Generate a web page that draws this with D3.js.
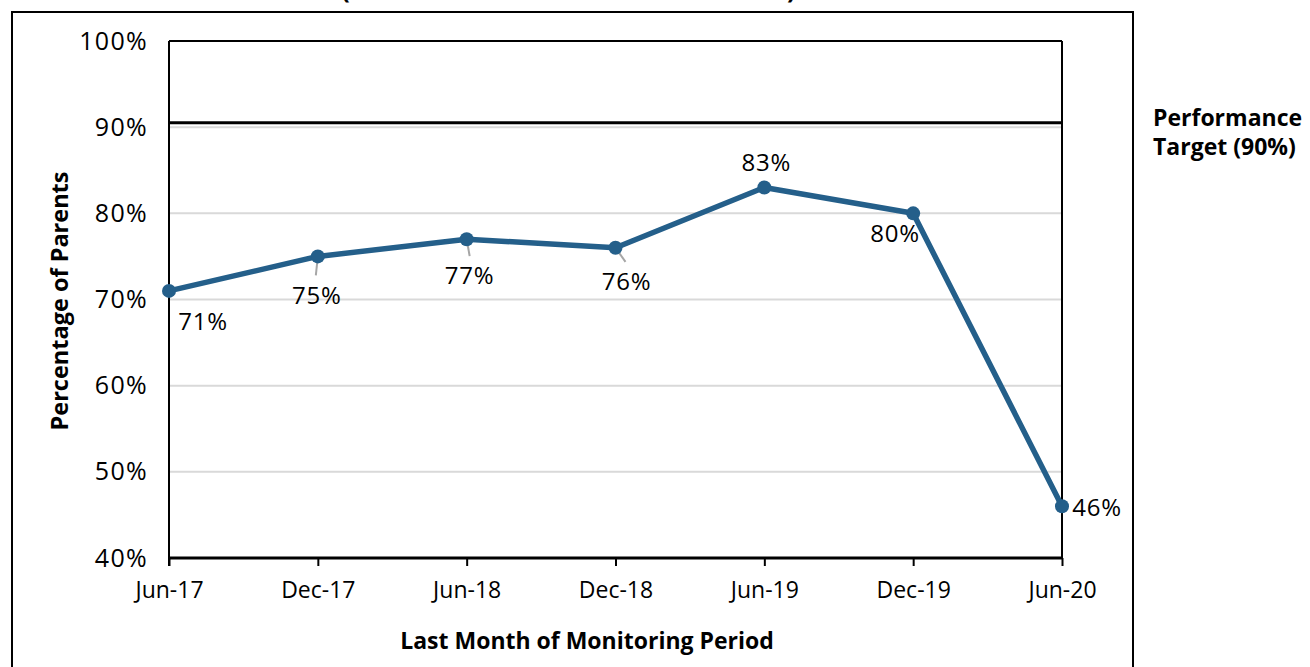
<!DOCTYPE html>
<html><head><meta charset="utf-8">
<script src="https://cdn.jsdelivr.net/npm/d3@7"></script>
<style>body{margin:0;background:#fff}svg{display:block}text{font-family:"Open Sans",sans-serif}</style>
</head><body><svg id="c" width="1310" height="667"></svg>
<script>
const categories = ["Jun-17","Dec-17","Jun-18","Dec-18","Jun-19","Dec-19","Jun-20"];
const values = [71,75,77,76,83,80,46];
const yTicks = [40,50,60,70,80,90,100];
const targetValue = 90.5;
const labelOffsets = [[34,30],[-1,39],[3,36],[11,33],[2,-25],[-18,20],[35,1]];
const leaderEnds = [null,[-2,19],[3,17],[10,14],null,null,null];

const svg = d3.select("#c");
const m = {l:169, r:1062, t:41, b:558};
const x = d3.scalePoint().domain(categories).range([m.l, m.r]);
const y = d3.scaleLinear().domain([40,100]).range([m.b, m.t]);
const blue = "#245f8a";

// outer frame
svg.append("path").attr("d","M12,700 L12,12 L1133,12 L1133,700").attr("fill","none").attr("stroke","#000").attr("stroke-width",2);
// clipped title (only bottoms of parentheses visible in the reference)
svg.append("text").attr("x",341).attr("y",-2).attr("font-size",26).attr("font-weight","bold").text("(");
svg.append("text").attr("x",787).attr("y",-2).attr("font-size",26).attr("font-weight","bold").text(")");

// gridlines
svg.append("g").selectAll("line").data(yTicks.filter(d=>d>40&&d<100)).join("line")
  .attr("x1",m.l).attr("x2",m.r).attr("y1",d=>y(d)).attr("y2",d=>y(d)).attr("stroke","#d9d9d9").attr("stroke-width",2);

// plot box top/right
svg.append("line").attr("x1",m.l).attr("x2",m.r).attr("y1",m.t).attr("y2",m.t).attr("stroke","#000").attr("stroke-width",2);
svg.append("line").attr("x1",m.r).attr("x2",m.r).attr("y1",m.t).attr("y2",m.b).attr("stroke","#000").attr("stroke-width",2);

// y axis
const ya = svg.append("g").attr("transform",`translate(${m.l},0)`)
  .call(d3.axisLeft(y).tickValues(yTicks).tickFormat(d=>d+"%").tickSize(0).tickPadding(21));
ya.select(".domain").attr("stroke","#000").attr("stroke-width",2).attr("d",`M0,${m.t}V${m.b+8}`);
ya.selectAll("text").attr("font-size",25).attr("letter-spacing",1.3).attr("fill","#000").attr("font-family","Open Sans");

// x axis
const xa = svg.append("g").attr("transform",`translate(0,${m.b})`)
  .call(d3.axisBottom(x).tickSize(8).tickPadding(16));
xa.select(".domain").attr("stroke","#000").attr("stroke-width",3).attr("d",`M${m.l},0H${m.r}`);
xa.selectAll("line").attr("stroke","#000").attr("stroke-width",2);
xa.selectAll("text").attr("font-size",23).attr("fill","#000").attr("font-family","Open Sans");

// target line
svg.append("line").attr("x1",m.l).attr("x2",m.r).attr("y1",y(targetValue)).attr("y2",y(targetValue)).attr("stroke","#000").attr("stroke-width",3);
svg.append("text").attr("x",1153).attr("y",126).attr("font-size",23).attr("font-weight","bold").text("Performance");
svg.append("text").attr("x",1153).attr("y",155).attr("font-size",23).attr("font-weight","bold").text("Target (90%)");

// line
const data = categories.map((c,i)=>({c,v:values[i],i}));
svg.append("path").datum(data).attr("fill","none").attr("stroke",blue).attr("stroke-width",5.5).attr("stroke-linejoin","round")
  .attr("d",d3.line().x(d=>x(d.c)).y(d=>y(d.v)));
// leader lines
svg.append("g").selectAll("line").data(data.filter(d=>leaderEnds[d.i])).join("line")
  .attr("x1",d=>x(d.c)).attr("y1",d=>y(d.v))
  .attr("x2",d=>x(d.c)+leaderEnds[d.i][0]).attr("y2",d=>y(d.v)+leaderEnds[d.i][1])
  .attr("stroke","#a6a6a6").attr("stroke-width",2);
svg.append("g").selectAll("circle").data(data).join("circle")
  .attr("cx",d=>x(d.c)).attr("cy",d=>y(d.v)).attr("r",7).attr("fill",blue);
svg.append("g").selectAll("text").data(data).join("text")
  .attr("x",d=>x(d.c)+labelOffsets[d.i][0]).attr("y",d=>y(d.v)+labelOffsets[d.i][1]+9)
  .attr("text-anchor","middle").attr("font-size",24).attr("letter-spacing",0.8).attr("fill","#000").text(d=>d.v+"%");

// axis titles
svg.append("text").attr("transform","translate(68,301) rotate(-90)").attr("text-anchor","middle")
  .attr("font-size",23.5).attr("font-weight","bold").text("Percentage of Parents");
svg.append("text").attr("x",587).attr("y",649).attr("text-anchor","middle")
  .attr("font-size",23).attr("font-weight","bold").text("Last Month of Monitoring Period");
</script></body></html>
